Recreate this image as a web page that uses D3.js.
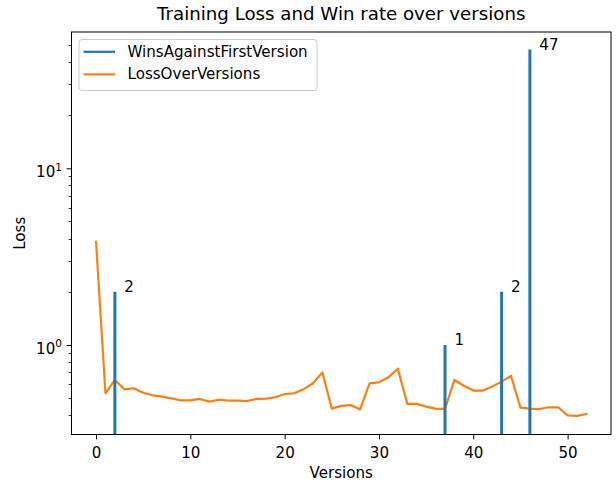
<!DOCTYPE html>
<html>
<head>
<meta charset="utf-8">
<script src="https://cdn.jsdelivr.net/npm/d3@7"></script>
<style>
  html, body { margin: 0; padding: 0; background: #fff; }
  svg { display: block; font-family: "DejaVu Sans", sans-serif; }
</style>
</head>
<body>
<svg id="chart" width="616" height="481"></svg>
<script>
// ---- data ----
const title = "Training Loss and Win rate over versions";
const xLabel = "Versions";
const yLabel = "Loss";
const seriesNames = ["WinsAgainstFirstVersion", "LossOverVersions"];

const winVersions = [2, 37, 43, 46];
const winCounts = [2, 1, 2, 47];

const lossValues = [
  3.84, 0.533, 0.634, 0.561, 0.569, 0.537, 0.519, 0.510, 0.499, 0.486,
  0.486, 0.495, 0.478, 0.490, 0.484, 0.484, 0.482, 0.495, 0.497, 0.506,
  0.528, 0.533, 0.561, 0.607, 0.700, 0.436, 0.452, 0.457, 0.432, 0.607,
  0.615, 0.656, 0.734, 0.464, 0.464, 0.448, 0.436, 0.435, 0.634, 0.588,
  0.552, 0.552, 0.583, 0.620, 0.668, 0.442, 0.436, 0.434, 0.444, 0.444,
  0.400, 0.397, 0.407
];

const xTicks = [0, 10, 20, 30, 40, 50];
const yMajorTicks = [1, 10];
const yTickExponents = ["0", "1"];

(function () {
// ---- layout ----
const svg = d3.select("#chart");
const pL = 71.5, pR = 611, pT = 32, pB = 434.5;
const blue = "#1f77b4", orange = "#ff7f0e";
const fs = 15.1;

const x = d3.scaleLinear().domain([-2.6, 54.6]).range([pL, pR]);
const y = d3.scaleLog().domain([0.3114, 59.1]).range([pB, pT]);

const clipId = "plotclip";
svg.append("defs").append("clipPath").attr("id", clipId)
  .append("rect").attr("x", pL).attr("y", pT)
  .attr("width", pR - pL).attr("height", pB - pT);

const plot = svg.append("g").attr("clip-path", `url(#${clipId})`);

// loss line
const line = d3.line().x((d, i) => x(i)).y(d => y(d));
plot.append("path")
  .datum(lossValues)
  .attr("d", line)
  .attr("fill", "none")
  .attr("stroke", orange)
  .attr("stroke-width", 2.2)
  .attr("stroke-linejoin", "round")
  .attr("stroke-linecap", "square");

// win bars (vertical lines)
plot.selectAll("line.win")
  .data(winVersions)
  .enter().append("line")
  .attr("class", "win")
  .attr("x1", d => x(d)).attr("x2", d => x(d))
  .attr("y1", pB + 2)
  .attr("y2", (d, i) => y(winCounts[i]))
  .attr("stroke", blue)
  .attr("stroke-width", 3);

// bar labels
svg.selectAll("text.winlab")
  .data(winVersions)
  .enter().append("text")
  .attr("class", "winlab")
  .attr("x", d => x(d + 1))
  .attr("y", (d, i) => y(winCounts[i]))
  .attr("font-size", fs)
  .attr("fill", "#000")
  .text((d, i) => String(winCounts[i]));

// ---- axes ----
const xAxis = svg.append("g").attr("transform", `translate(0,${pB})`)
  .call(d3.axisBottom(x).tickValues(xTicks).tickFormat(d3.format("d"))
    .tickSizeInner(4.9).tickSizeOuter(0));
xAxis.select(".domain").remove();
xAxis.selectAll("line").attr("stroke", "#000").attr("stroke-width", 1);
xAxis.selectAll("text").attr("font-size", fs).attr("fill", "#000")
  .attr("font-family", "DejaVu Sans").attr("dy", null).attr("y", 23.5);

// y axis minor ticks
const minorTicks = [];
[0.1, 1, 10].forEach(base => {
  for (let k = 2; k <= 9; k++) {
    const v = base * k;
    if (v >= y.domain()[0] && v <= y.domain()[1]) minorTicks.push(v);
  }
});
const yAxisG = svg.append("g");
yAxisG.selectAll("line.minor").data(minorTicks).enter().append("line")
  .attr("x1", pL - 2.8).attr("x2", pL)
  .attr("y1", d => Math.round(y(d)) + 0.5).attr("y2", d => Math.round(y(d)) + 0.5)
  .attr("stroke", "#000").attr("stroke-width", 0.8);
const yAxis = svg.append("g").attr("transform", `translate(${pL},0)`)
  .call(d3.axisLeft(y).tickValues(yMajorTicks).tickFormat(() => "")
    .tickSizeInner(4.9).tickSizeOuter(0));
yAxis.select(".domain").remove();
yAxis.selectAll("line").attr("stroke", "#000").attr("stroke-width", 1);
yAxis.selectAll(".tick").each(function(d, i) {
  const t = d3.select(this).select("text")
    .attr("x", -9.5).attr("dy", null).attr("y", 8.2)
    .attr("font-size", fs).attr("fill", "#000")
    .attr("font-family", "DejaVu Sans")
    .attr("text-anchor", "end");
  t.text("10");
  t.append("tspan").attr("dy", -6.5).attr("font-size", fs * 0.7).text(yTickExponents[i]);
});

// spines
svg.append("rect")
  .attr("x", pL).attr("y", pT)
  .attr("width", pR - pL).attr("height", pB - pT)
  .attr("fill", "none").attr("stroke", "#000").attr("stroke-width", 1);

// titles
svg.append("text").attr("x", (pL + pR) / 2).attr("y", 19.5)
  .attr("text-anchor", "middle").attr("font-size", 18.2).attr("fill", "#000")
  .text(title);
svg.append("text").attr("x", (pL + pR) / 2).attr("y", 477.5)
  .attr("text-anchor", "middle").attr("font-size", fs).attr("fill", "#000")
  .text(xLabel);
svg.append("text")
  .attr("transform", `translate(24.5,${(pT + pB) / 2}) rotate(-90)`)
  .attr("text-anchor", "middle").attr("font-size", fs).attr("fill", "#000")
  .text(yLabel);

// legend
const lg = svg.append("g");
lg.append("rect").attr("x", 79).attr("y", 39.5).attr("width", 238).attr("height", 51)
  .attr("rx", 3).attr("fill", "#fff").attr("fill-opacity", 0.8)
  .attr("stroke", "#cccccc").attr("stroke-width", 1);
const legColors = [blue, orange];
seriesNames.forEach((name, i) => {
  const ly = 51.8 + i * 22.6;
  lg.append("line").attr("x1", 83.5).attr("x2", 115).attr("y1", ly).attr("y2", ly)
    .attr("stroke", legColors[i]).attr("stroke-width", 2.2);
  lg.append("text").attr("x", 127.5).attr("y", ly + 4.8)
    .attr("font-size", fs).attr("fill", "#000").text(name);
});
})();
</script>
</body>
</html>
